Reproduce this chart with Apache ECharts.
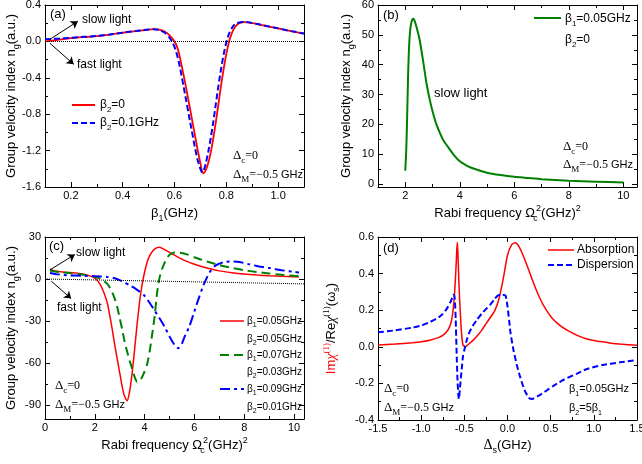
<!DOCTYPE html>
<html><head><meta charset="utf-8">
<script src="https://cdn.jsdelivr.net/npm/echarts@6/dist/echarts.min.js"></script>
<style>html,body{margin:0;padding:0;background:#fff}#c{width:642px;height:464px}</style>
</head><body><div id="c"></div>
<script>
// ---------------- DATA ----------------
// (a) group velocity index vs beta1
const aRed = [[0.10,0.000],[0.15,0.018],[0.20,0.035],[0.25,0.047],[0.30,0.058],[0.35,0.075],[0.40,0.095],[0.45,0.113],[0.50,0.130],[0.52,0.135],[0.54,0.130],[0.56,0.112],[0.58,0.070],[0.60,0.000],[0.61,-0.060],[0.62,-0.165],[0.64,-0.440],[0.66,-0.740],[0.68,-1.050],[0.69,-1.200],[0.70,-1.340],[0.705,-1.410],[0.712,-1.450],[0.72,-1.420],[0.73,-1.340],[0.74,-1.220],[0.75,-1.060],[0.76,-0.880],[0.77,-0.680],[0.78,-0.480],[0.79,-0.300],[0.80,-0.140],[0.81,-0.010],[0.82,0.080],[0.83,0.140],[0.84,0.178],[0.85,0.200],[0.87,0.212],[0.90,0.200],[0.95,0.172],[1.00,0.142],[1.05,0.112],[1.10,0.086]];
const aBlue = [[0.10,0.025],[0.15,0.030],[0.20,0.040],[0.25,0.050],[0.30,0.060],[0.35,0.076],[0.40,0.096],[0.45,0.114],[0.50,0.131],[0.52,0.134],[0.54,0.126],[0.56,0.100],[0.58,0.045],[0.59,0.000],[0.60,-0.060],[0.61,-0.150],[0.62,-0.270],[0.64,-0.570],[0.66,-0.880],[0.68,-1.180],[0.69,-1.310],[0.70,-1.400],[0.707,-1.440],[0.715,-1.400],[0.72,-1.350],[0.73,-1.220],[0.74,-1.060],[0.75,-0.880],[0.76,-0.680],[0.77,-0.480],[0.78,-0.300],[0.79,-0.140],[0.80,-0.010],[0.81,0.080],[0.82,0.140],[0.83,0.180],[0.84,0.200],[0.86,0.212],[0.87,0.214],[0.90,0.202],[0.95,0.173],[1.00,0.143],[1.05,0.113],[1.10,0.087]];
// (b) group velocity index vs Rabi frequency
const bGreen = [[2.00,4.5],[2.03,10],[2.055,17],[2.08,27],[2.10,35],[2.13,44],[2.17,50.5],[2.22,54],[2.29,55.4],[2.34,54.8],[2.41,52.7],[2.53,48.2],[2.65,41.5],[2.78,33.7],[2.90,28.2],[3.02,23.7],[3.15,19.8],[3.39,14.8],[3.64,11.5],[3.80,9.5],[4.00,7.6],[4.25,6.2],[4.50,5.2],[5.00,3.8],[5.50,3.0],[6.00,2.4],[6.50,2.0],[7.00,1.6],[8.00,1.1],[9.00,0.8],[10.00,0.55]];
// (c) three (beta1, beta2) combinations
const cRed = [[0.2,7],[0.4,5.8],[0.7,5],[1.0,4.6],[1.3,4.2],[1.6,3.2],[1.8,2.2],[2.0,0.6],[2.1,-1],[2.2,-3.5],[2.3,-7],[2.4,-11.5],[2.5,-17],[2.6,-26],[2.7,-36],[2.8,-47],[2.9,-57],[3.0,-67],[3.1,-77],[3.2,-84],[3.3,-87],[3.4,-80],[3.5,-67],[3.6,-50],[3.7,-32],[3.8,-16],[3.9,-4],[4.0,5],[4.1,12],[4.2,16.5],[4.35,20.5],[4.5,22.4],[4.6,22.6],[4.8,21],[5.0,19],[5.3,16],[5.6,13.3],[6.0,10.5],[6.5,7.8],[7.0,5.8],[7.5,4.5],[8.0,3.5],[8.5,2.8],[9.0,2.3],[9.5,1.9],[10.0,1.6],[10.2,1.5]];
const cGreen = [[0.2,6],[0.4,5.3],[0.7,4.7],[1.0,4.2],[1.3,3.6],[1.6,2.9],[1.9,2],[2.1,1],[2.3,-0.5],[2.5,-3.5],[2.6,-6],[2.7,-9.5],[2.8,-14],[2.9,-20],[3.0,-28],[3.1,-36],[3.2,-45],[3.3,-52],[3.4,-58.5],[3.5,-64],[3.6,-70],[3.7,-73.5],[3.8,-73],[3.9,-70],[4.0,-66],[4.1,-61],[4.2,-52],[4.3,-40],[4.4,-27],[4.5,-10],[4.6,1],[4.7,7],[4.8,11.5],[4.9,15],[5.0,17.3],[5.2,19],[5.4,18.8],[5.7,17.6],[6.0,15.5],[6.5,12.5],[7.0,10],[7.5,8],[8.0,6.3],[8.5,5],[9.0,4],[9.5,3],[10.0,2.3],[10.2,2.1]];
const cBlue = [[0.2,4.3],[0.5,3.3],[1.0,2.6],[1.5,2.3],[2.0,2],[2.5,1.5],[2.8,0.5],[3.0,-0.8],[3.2,-2.5],[3.4,-4.5],[3.6,-6.5],[3.8,-9],[4.0,-12],[4.2,-17],[4.4,-22.5],[4.6,-28],[4.8,-34],[5.0,-41],[5.2,-47],[5.35,-49.5],[5.5,-46],[5.6,-41.5],[5.8,-33.8],[6.0,-23],[6.2,-12.4],[6.35,-5],[6.5,1],[6.6,4.5],[6.8,9],[7.0,11],[7.2,12.2],[7.5,12.6],[7.8,12.2],[8.2,10.5],[8.6,9],[9.0,7.8],[9.5,6.3],[10.0,5.1],[10.2,4.7]];
// (d) absorption / dispersion vs detuning
const dAbs = [[-1.5,0.010],[-1.3,0.015],[-1.1,0.022],[-1.0,0.027],[-0.9,0.036],[-0.8,0.050],[-0.75,0.062],[-0.7,0.085],[-0.67,0.11],[-0.65,0.14],[-0.63,0.2],[-0.615,0.28],[-0.6,0.4],[-0.59,0.5],[-0.582,0.571],[-0.575,0.52],[-0.565,0.38],[-0.555,0.26],[-0.54,0.13],[-0.53,0.06],[-0.515,0.01],[-0.49,0.0],[-0.45,0.015],[-0.4,0.035],[-0.35,0.06],[-0.3,0.09],[-0.25,0.125],[-0.2,0.16],[-0.15,0.195],[-0.1,0.26],[-0.05,0.37],[0.0,0.5],[0.05,0.56],[0.09,0.568],[0.13,0.55],[0.18,0.5],[0.23,0.44],[0.3,0.35],[0.38,0.26],[0.45,0.2],[0.52,0.155],[0.61,0.116],[0.7,0.088],[0.8,0.064],[0.92,0.043],[1.0,0.035],[1.1,0.027],[1.2,0.02],[1.3,0.015],[1.5,0.008]];
const dDisp = [[-1.5,0.079],[-1.3,0.09],[-1.1,0.105],[-1.0,0.116],[-0.9,0.135],[-0.8,0.16],[-0.75,0.18],[-0.7,0.21],[-0.66,0.245],[-0.635,0.275],[-0.621,0.285],[-0.61,0.26],[-0.6,0.15],[-0.59,-0.02],[-0.58,-0.17],[-0.57,-0.26],[-0.563,-0.285],[-0.55,-0.22],[-0.53,-0.12],[-0.515,-0.05],[-0.497,-0.012],[-0.47,0.04],[-0.44,0.08],[-0.4,0.116],[-0.35,0.15],[-0.3,0.18],[-0.247,0.207],[-0.2,0.23],[-0.15,0.26],[-0.113,0.28],[-0.07,0.285],[-0.024,0.28],[0.0,0.22],[0.02,0.14],[0.034,0.079],[0.07,-0.02],[0.11,-0.103],[0.15,-0.17],[0.2,-0.24],[0.25,-0.28],[0.285,-0.285],[0.35,-0.27],[0.45,-0.24],[0.535,-0.212],[0.65,-0.18],[0.8,-0.148],[0.92,-0.121],[1.1,-0.1],[1.3,-0.085],[1.46,-0.075],[1.5,-0.073]];

// axis ranges and ticks
const aXRange = [0.1, 1.1], aYRange = [-1.6, 0.4];
const aXTicks = [0.2, 0.4, 0.6, 0.8, 1.0], aXMinor = [0.1, 0.3, 0.5, 0.7, 0.9, 1.1];
const aYTicks = [0.4, 0.0, -0.4, -0.8, -1.2, -1.6], aYMinor = [0.2, -0.2, -0.6, -1.0, -1.4];
const bXRange = [1, 10.5], bYRange = [-1, 60];
const bXTicks = [2, 4, 6, 8, 10], bXMinor = [1, 3, 5, 7, 9];
const bYTicks = [0, 10, 20, 30, 40, 50, 60], bYMinor = [5, 15, 25, 35, 45, 55];
const cXRange = [0, 10.4], cYRange = [-100, 30];
const cXTicks = [0, 2, 4, 6, 8, 10], cXMinor = [1, 3, 5, 7, 9];
const cYTicks = [30, 0, -30, -60, -90], cYMinor = [15, -15, -45, -75];
const dXRange = [-1.5, 1.5], dYRange = [-0.4, 0.6];
const dXTicks = [-1.5, -1.0, -0.5, 0.0, 0.5, 1.0, 1.5], dXMinor = [-1.25, -0.75, -0.25, 0.25, 0.75, 1.25];
const dYTicks = [-0.4, -0.2, 0.0, 0.2, 0.4, 0.6], dYMinor = [-0.3, -0.1, 0.1, 0.3, 0.5];

// reference lines / arrows (annotation coordinates in data space)
const aZero = [[0.1, 0], [1.1, 0]];
const aSlowArrow = [[0.119, 0.023], [0.227, 0.221]];
const aFastArrow = [[0.119, -0.021], [0.211, -0.252]];
const cZero = [[0, 0], [10.4, -3.5]];
const cSlowArrow = [[0.2, 6.5], [1.2, 17.5]];
const cFastArrow = [[0.25, -1.5], [1.05, -14]];

// ---------------- STYLE ----------------
const SANS = "'Liberation Sans', Arial, sans-serif";
const SERIF = "'Liberation Serif', 'Times New Roman', serif";
function mkRich(fs) {
  const sb = Math.round(fs * 0.68);
  const L = fs + 6, S = sb + 2;
  return {
    n: {fontFamily: SANS, fontSize: fs, lineHeight: L, color: '#000'},
    g: {fontFamily: SANS, fontSize: fs - 1, lineHeight: L, color: '#000'},
    sub: {fontFamily: SANS, fontSize: sb, lineHeight: S, verticalAlign: 'bottom', color: '#000'},
    subz: {fontFamily: SANS, fontSize: sb, lineHeight: S, verticalAlign: 'bottom', color: '#000', width: 1},
    sup: {fontFamily: SANS, fontSize: sb, lineHeight: S, verticalAlign: 'top', color: '#000'},
    s: {fontFamily: SERIF, fontSize: fs, lineHeight: L, color: '#000'},
    d: {fontFamily: SERIF, fontSize: fs + 1, lineHeight: L, color: '#000'},
    ssub: {fontFamily: SERIF, fontSize: sb + 1, lineHeight: S, verticalAlign: 'bottom', color: '#000'},
    r: {fontFamily: SANS, fontSize: fs, lineHeight: L, color: '#ff0000'},
    ri: {fontFamily: SERIF, fontStyle: 'italic', fontSize: fs + 1, lineHeight: L, color: '#ff0000'},
    rsup: {fontFamily: SERIF, fontSize: sb, lineHeight: S, verticalAlign: 'top', color: '#ff0000'},
    ki: {fontFamily: SERIF, fontStyle: 'italic', fontSize: fs + 1, lineHeight: L, color: '#000'},
    ksup: {fontFamily: SERIF, fontSize: sb, lineHeight: S, verticalAlign: 'top', color: '#000'}
  };
}
const R11 = mkRich(11), R12 = mkRich(12), R13 = mkRich(13), R10 = mkRich(10);
const BLK = {color: '#000', width: 1};

function xAxes(g, r, maj, min, fmt, name, gap) {
  const b = {type: 'value', gridIndex: g, min: r[0], max: r[1], splitLine: {show: false}, axisPointer: {show: false}};
  return [
    Object.assign({}, b, {position: 'bottom', axisLine: {show: true, onZero: false, lineStyle: BLK},
      axisTick: {show: true, inside: true, length: 5, customValues: maj, lineStyle: BLK},
      axisLabel: {show: true, customValues: maj, formatter: fmt, margin: 3, color: '#000', fontSize: 11, fontFamily: SANS},
      name: name, nameLocation: 'middle', nameGap: gap, nameMoveOverlap: false,
      nameTextStyle: {rich: R13, fontSize: 13, color: '#000'}}),
    Object.assign({}, b, {position: 'bottom', axisLine: {show: false, onZero: false},
      axisTick: {show: true, inside: true, length: 3, customValues: min, lineStyle: BLK}, axisLabel: {show: false}}),
    Object.assign({}, b, {position: 'top', axisLine: {show: true, onZero: false, lineStyle: BLK},
      axisTick: {show: true, inside: true, length: 5, customValues: maj, lineStyle: BLK}, axisLabel: {show: false}}),
    Object.assign({}, b, {position: 'top', axisLine: {show: false, onZero: false},
      axisTick: {show: true, inside: true, length: 3, customValues: min, lineStyle: BLK}, axisLabel: {show: false}})
  ];
}
function yAxes(g, r, maj, min, fmt, name, gap) {
  const b = {type: 'value', gridIndex: g, min: r[0], max: r[1], splitLine: {show: false}, axisPointer: {show: false}};
  return [
    Object.assign({}, b, {position: 'left', axisLine: {show: true, onZero: false, lineStyle: BLK},
      axisTick: {show: true, inside: true, length: 5, customValues: maj, lineStyle: BLK},
      axisLabel: {show: true, customValues: maj, formatter: fmt, margin: 4, color: '#000', fontSize: 11, fontFamily: SANS},
      name: name, nameLocation: 'middle', nameGap: gap, nameRotate: 90, nameMoveOverlap: false,
      nameTextStyle: {rich: R13, fontSize: 13, color: '#000'}}),
    Object.assign({}, b, {position: 'left', axisLine: {show: false, onZero: false},
      axisTick: {show: true, inside: true, length: 3, customValues: min, lineStyle: BLK}, axisLabel: {show: false}}),
    Object.assign({}, b, {position: 'right', axisLine: {show: true, onZero: false, lineStyle: BLK},
      axisTick: {show: true, inside: true, length: 5, customValues: maj, lineStyle: BLK}, axisLabel: {show: false}}),
    Object.assign({}, b, {position: 'right', axisLine: {show: false, onZero: false},
      axisTick: {show: true, inside: true, length: 3, customValues: min, lineStyle: BLK}, axisLabel: {show: false}})
  ];
}
const f1 = v => v.toFixed(1);
const f0 = v => String(Math.round(v));

const yNameNg = '{n|Group velocity index n}{sub|g}{n|(a.u.)}';
const rabiName = '{n|Rabi frequency Ω}{subz|c}{sup|2}{n|(GHz)}{sup|2}';

const xs = [].concat(
  xAxes(0, aXRange, aXTicks, aXMinor, f1, '{n|β}{sub|1}{n|(GHz)}', 17),
  xAxes(1, bXRange, bXTicks, bXMinor, f0, rabiName, 17),
  xAxes(2, cXRange, cXTicks, cXMinor, f0, rabiName, 17),
  xAxes(3, dXRange, dXTicks, dXMinor, f1, '{d|Δ}{sub|s}{n|(GHz)}', 16)
);
const ys = [].concat(
  yAxes(0, aYRange, aYTicks, aYMinor, f1, yNameNg, 24),
  yAxes(1, bYRange, bYTicks, bYMinor, f0, yNameNg, 22),
  yAxes(2, cYRange, cYTicks, cYMinor, f0, yNameNg, 24),
  yAxes(3, dYRange, dYTicks, dYMinor, f1, '{r|Im}{ri|χ}{rsup|(1)}{n|/Re}{ki|χ}{ksup|(1)}{n|(ω}{sub|s}{n|)}', 37)
);

function line(g, data, color, width, dash, extra) {
  return Object.assign({type: 'line', xAxisIndex: 4 * g, yAxisIndex: 4 * g, data: data, showSymbol: false, symbol: 'none',
    smooth: 0.2, lineStyle: {color: color, width: width, type: dash || 'solid'}, itemStyle: {color: color}, z: 3}, extra || {});
}
function ml(pairs, style, sym) {
  return {silent: true, animation: false, symbol: sym, symbolSize: 7, label: {show: false}, lineStyle: style,
    emphasis: {disabled: true},
    data: pairs.map(p => [{coord: p[0]}, {coord: p[1]}])};
}
const DOT = {type: 'dotted', color: '#000', width: 1};
const ARR = {type: 'solid', color: '#000', width: 1};

const series = [
  line(0, aRed, '#ff0000', 1.8, 'solid', {markLine: ml([aSlowArrow, aFastArrow], ARR, ['none', 'arrow'])}),
  line(0, aBlue, '#0000ff', 2, [6, 3], {markLine: ml([aZero], DOT, ['none', 'none'])}),
  line(1, bGreen, '#008000', 2, 'solid'),
  line(2, cRed, '#ff0000', 1.5, 'solid', {markLine: ml([cSlowArrow, cFastArrow], ARR, ['none', 'arrow'])}),
  line(2, cGreen, '#008000', 2, [9, 5], {markLine: ml([cZero], DOT, ['none', 'none'])}),
  line(2, cBlue, '#0000ff', 2, [10, 4, 3, 4]),
  line(3, dAbs, '#ff0000', 1.5, 'solid'),
  line(3, dDisp, '#0000ff', 2, [6, 3])
];

function T(x, y, text, rich) {
  return {type: 'text', x: x, y: y, z: 10, silent: true,
    style: {text: text, rich: rich || R12, align: 'left', verticalAlign: 'middle', textAlign: 'left', textVerticalAlign: 'middle'}};
}
function L(x1, x2, y, color, width, dash) {
  return {type: 'line', z: 10, silent: true, shape: {x1: x1, y1: y, x2: x2, y2: y},
    style: {stroke: color, lineWidth: width, lineDash: dash || null}};
}
const dC = '{d|Δ}{ssub|c}{s|=0}';
const dM = '{d|Δ}{ssub|M}{s|=−0.5}{g| GHz}';

const graphic = [
  T(50, 14, '{n|(a)}', R13), T(82, 20, '{n|slow light}'), T(77, 65, '{n|fast light}'),
  L(72, 95, 105, '#ff0000', 2), T(100, 105, '{n|β}{sub|2}{n|=0}'),
  L(72, 95, 123, '#0000ff', 2, [6, 3]), T(100, 123, '{n|β}{sub|2}{n|=0.1GHz}'),
  T(233, 156, dC), T(233, 175, dM),

  T(383, 15, '{n|(b)}', R13),
  L(534, 561, 18, '#008000', 2), T(565, 19, '{n|β}{sub|1}{n|=0.05GHz}'), T(565, 40, '{n|β}{sub|2}{n|=0}'),
  T(434, 93, '{n|slow light}', R13),
  T(563, 147, dC), T(563, 165, dM),

  T(49, 246, '{n|(c)}', R13), T(76, 253, '{n|slow light}'), T(57, 308, '{n|fast light}'),
  L(220, 244, 321, '#ff0000', 1.5), T(247, 321, '{n|β}{sub|1}{n|=0.05GHz}', R10), T(247, 339, '{n|β}{sub|2}{n|=0.05GHz}', R10),
  L(220, 244, 355, '#008000', 2, [9, 5]), T(247, 355, '{n|β}{sub|1}{n|=0.07GHz}', R10), T(247, 372, '{n|β}{sub|2}{n|=0.03GHz}', R10),
  L(220, 244, 389, '#0000ff', 2, [10, 4, 3, 4]), T(247, 389, '{n|β}{sub|1}{n|=0.09GHz}', R10), T(247, 407, '{n|β}{sub|2}{n|=0.01GHz}', R10),
  T(55, 386, dC), T(55, 405, dM),

  T(383, 248, '{n|(d)}', R13),
  L(548, 574, 250, '#ff0000', 1.5), T(577, 250, '{n|Absorption}'),
  L(548, 574, 265, '#0000ff', 2, [6, 3]), T(577, 265, '{n|Dispersion}'),
  T(384, 389, dC), T(384, 408, dM),
  T(569, 389, '{n|β}{sub|1}{n|=0.05GHz}', R11), T(569, 408, '{n|β}{sub|2}{n|=5β}{sub|1}', R11)
];

const chart = echarts.init(document.getElementById('c'), null, {renderer: 'canvas'});
chart.setOption({
  animation: false,
  backgroundColor: '#fff',
  grid: [
    {left: 45, top: 5, width: 259, height: 182, containLabel: false, outerBoundsMode: 'none'},
    {left: 378, top: 5, width: 259, height: 182, containLabel: false, outerBoundsMode: 'none'},
    {left: 45, top: 237, width: 259, height: 182, containLabel: false, outerBoundsMode: 'none'},
    {left: 378, top: 237, width: 259, height: 183, containLabel: false, outerBoundsMode: 'none'}
  ],
  xAxis: xs,
  yAxis: ys,
  series: series,
  graphic: graphic
});
</script></body></html>
